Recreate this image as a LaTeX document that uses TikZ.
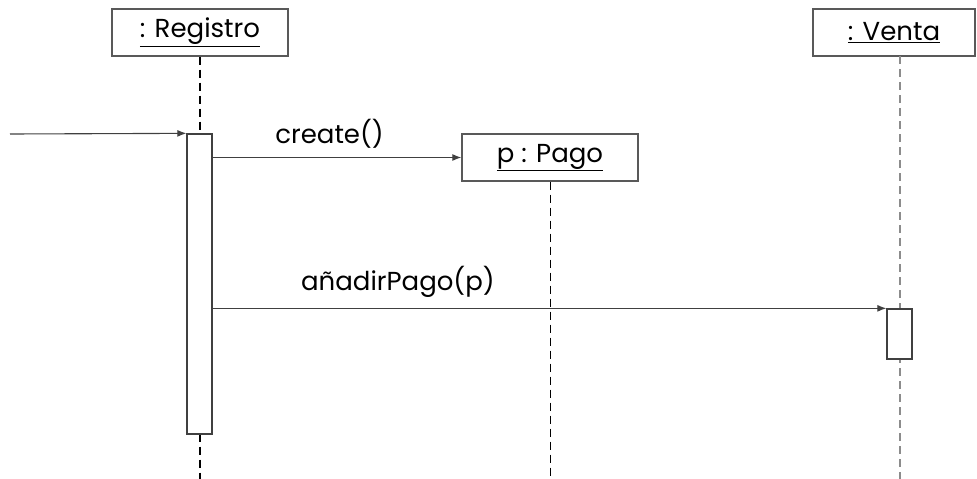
\documentclass[tikz,border=0pt]{standalone}
\usepackage{fontspec}
\setmainfont{Poppins}
\usetikzlibrary{positioning,arrows.meta}

\begin{document}
\begin{tikzpicture}
	[
		x=1pt, y=-1pt,
		>={Latex[length=9pt,width=7pt]},
		object/.style={draw=black!65, line width=1.3pt, fill=white, inner sep=0pt, minimum width=176pt, minimum height=47pt, font=\fontsize{26}{30}\selectfont},
		activation/.style={draw=black!75, line width=1.3pt, fill=white, inner sep=0pt, minimum width=25pt},
		lifeline/.style={line width=1.2pt, dash pattern=on 8pt off 5pt},
		message/.style={->, draw=black!75, line width=1.1pt},
		msglabel/.style={font=\fontsize{26}{30}\selectfont, inner sep=0pt}
	]

	\useasboundingbox (0,0) rectangle (977,479);

	% objetos
	\node[object] (registro) at (200,32.5) {\underline{: Registro}};
	\node[object] (pago) at (550,157.5) {\underline{p : Pago}};
	\node[object, minimum width=162pt] (venta) at (894,32.5) {\underline{: Venta}};

	% lineas de vida
	\coordinate (registroend) at (200,479);
	\coordinate (pagoend) at (550,479);
	\coordinate (ventatop) at (900,56);
	\coordinate (ventaend) at (900,479);

	\draw[lifeline] (registro.south) -- (registroend);
	\draw[lifeline, line width=0.9pt] (pago.south) -- (pagoend);
	\draw[lifeline, draw=black!45] (ventatop) -- (ventaend);

	% activaciones
	\node[activation, minimum height=300pt] (registroact) at (199.5,284) {};
	\node[activation, minimum height=50pt] (ventaact) at (899.5,334) {};

	\coordinate (found) at (10,134);
	\coordinate (createstart) at (registroact.east |- pago.west);
	\coordinate (addstart) at (registroact.east |- ventaact.north west);

	% mensajes
	\path
	(found)         edge[message] (registroact.north west)
	(createstart)   edge[message] node[msglabel, above=9pt, pos=0.47] (create) {create()} (pago.west)
	(addstart)      edge[message] node[msglabel, above=10pt, pos=0.275] (anadir) {añadirPago(p)} (ventaact.north west);

\end{tikzpicture}
\end{document}
